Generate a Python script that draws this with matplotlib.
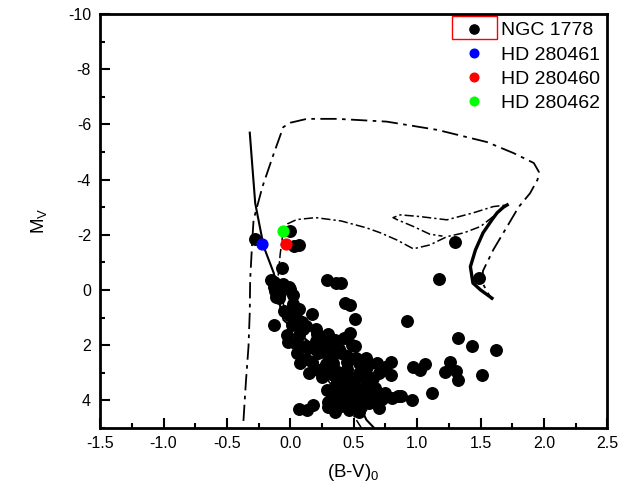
import numpy as np
import matplotlib
matplotlib.use('Agg')
import matplotlib.pyplot as plt
from matplotlib.ticker import MultipleLocator
from matplotlib.patches import Rectangle

plt.rcParams['font.family'] = ['Liberation Sans', 'DejaVu Sans']
plt.rcParams['axes.unicode_minus'] = False
plt.rcParams['mathtext.fontset'] = 'custom'
plt.rcParams['mathtext.rm'] = 'Liberation Sans'
plt.rcParams['mathtext.it'] = 'Liberation Sans:italic'

# NGC 1778 members, (B-V)0 and Mv
ngc_bv = [-0.28, -0.005, 0.027, 0.07, -0.067,
          -0.15, -0.13, -0.08, -0.026, -0.11, -0.014, -0.13, -0.06, -0.09,
          0.29, 0.36, 0.40, 1.17, 1.49, 1.30, 0.43, 0.47,
          0.066, 0.17, -0.01, 0.51, 0.92, -0.13, 0.01, 0.09,
          -0.03, 0.066, 0.21, 0.29, 0.35, 0.42, 0.47, 0.51, 0.07, 0.14, 0.04, 0.12, 0.33, 0.49,
          1.32, 1.43, 1.62,
          0.08, 0.17, 0.34, 0.45, 0.54, 0.68, 0.79, 0.97, 1.06, 1.02, 1.26, 1.22, 1.31, 1.32, 1.51,
          0.15, 0.25, 0.41, 0.54, 0.70, 0.79,
          0.29, 0.35, 0.46, 0.56, 0.67, 0.75, 0.85, 0.96, 0.87, 1.12,
          0.30, 0.41, 0.51, 0.62, 0.70, 0.35, 0.46, 0.54, 0.07, 0.13, 0.18,
          0.22, 0.30, 0.40, 0.25, 0.35, 0.45, 0.60, 0.40, 0.50, 0.60, 0.35, 0.45, 0.55, 0.65,
          0.40, 0.50, 0.30, 0.60, 0.75, 0.20, 0.10, 0.02, -0.05, 0.30, 0.25,
          0.20, 0.27, 0.33, 0.38, 0.45, 0.52, 0.58, 0.62, 0.28, 0.22, 0.32, 0.47, 0.58, 0.65,
          0.37, 0.44, 0.52, 0.60, 0.40, 0.50, 0.33, 0.42, 0.58, 0.36, 0.48, 0.56, 0.66, 0.72,
          0.80, 0.63, 0.12, 0.05, -0.02, 0.06, 0.12, 0.02, -0.12, 0.00]
ngc_mv = [-1.84, -2.15, -1.60, -1.62, -0.81,
          -0.36, -0.12, 0.11, -0.06, 0.24, -0.12, -0.30, -0.20, 0.30,
          -0.36, -0.24, -0.24, -0.39, -0.42, -1.75, 0.48, 0.54,
          0.68, 0.86, 0.90, 1.06, 1.14, 1.26, 1.27, 1.15,
          1.63, 1.63, 1.60, 1.77, 1.81, 1.75, 1.57, 2.02, 1.99, 2.11, 1.93, 2.05, 1.99, 1.99,
          1.73, 2.03, 2.17,
          2.66, 2.60, 2.66, 2.60, 2.66, 2.66, 2.60, 2.78, 2.68, 2.90, 2.63, 2.96, 2.94, 3.26, 3.09,
          3.02, 3.14, 3.02, 3.02, 3.02, 3.08,
          3.62, 3.50, 3.50, 3.62, 3.56, 3.74, 3.86, 3.99, 3.84, 3.73,
          4.05, 3.99, 4.05, 4.11, 4.29, 4.41, 4.35, 4.41, 4.33, 4.35, 4.17,
          2.30, 2.40, 2.30, 2.85, 2.90, 2.85, 2.85, 3.30, 3.30, 3.30, 3.80, 3.75, 3.85, 3.85,
          4.20, 4.25, 4.25, 2.45, 2.80, 1.40, 1.40, 0.50, 0.75, 1.60, 2.00,
          1.85, 2.20, 2.40, 2.15, 2.40, 2.45, 2.55, 2.70, 2.70, 2.90, 3.05, 3.15, 3.10, 3.20,
          3.30, 3.45, 3.55, 3.50, 3.65, 3.80, 3.90, 3.95, 3.95, 4.10, 4.15, 4.25, 4.00, 3.95,
          3.90, 3.70, 2.50, 2.30, 1.90, 1.10, 1.30, 0.20, 0.05, -0.05]

# the three HD stars
hd_names = ['HD 280461', 'HD 280460', 'HD 280462']
hd_bv = [-0.224, -0.036, -0.058]
hd_mv = [-1.66, -1.67, -2.15]
hd_colors = ['#0000ff', '#ff0000', '#00ff00']

# isochrones (traced)
isoA_bv = [-0.37, -0.35, -0.33, -0.32, -0.317, -0.30, -0.29, -0.22, -0.13, -0.056, 0.0, 0.13, 0.37,
           0.76, 1.16, 1.55, 1.76, 1.92, 1.96, 1.95, 1.89, 1.80, 1.71, 1.60, 1.52, 1.51, 1.55, 1.59]
isoA_mv = [4.75, 3.3, 2.05, 0.8, -0.36, -1.81, -2.54, -3.74, -4.95, -5.9, -6.06, -6.2, -6.2,
           -6.1, -5.8, -5.36, -4.96, -4.6, -4.28, -4.0, -3.5, -3.0, -2.3, -1.45, -0.7, -0.3, 0.05, 0.35]

isoB_bv = [-0.32, -0.30, -0.277, -0.21, -0.13, -0.08, -0.054, 0.157, 0.29, 0.42, 0.525, 0.60, 0.66]
isoB_mv = [-5.70, -4.5, -3.14, -1.57, -0.60, 0.60, 1.09, 1.93, 2.54, 3.26, 3.99, 4.71, 5.0]

isoC_bv = [0.56, 0.45, 0.30, 0.17, 0.05, -0.05, -0.09, -0.096, -0.08, -0.06, -0.02, 0.05, 0.20, 0.40,
           0.60, 0.71, 0.84, 0.97, 1.10, 1.235, 1.37, 1.50, 1.60, 1.71, 1.60, 1.44, 1.235, 1.02,
           0.867, 0.81, 0.84, 0.97, 1.10, 1.20]
isoC_mv = [5.0, 4.2, 3.3, 2.3, 1.5, 0.6, -0.2, -0.5, -1.3, -2.0, -2.4, -2.55, -2.62, -2.5,
           -2.25, -2.07, -1.81, -1.49, -1.63, -1.93, -2.07, -2.3, -2.66, -3.08, -3.02, -2.79, -2.54, -2.66,
           -2.72, -2.62, -2.55, -2.30, -2.02, -1.95]

rgb_bv = [1.59, 1.50, 1.44, 1.42, 1.46, 1.52, 1.59, 1.63, 1.68, 1.71]
rgb_mv = [0.30, 0.0, -0.25, -0.84, -1.45, -2.07, -2.54, -2.79, -3.0, -3.08]

fig = plt.figure(figsize=(6.42, 5.01), dpi=100)
ax = fig.add_axes([0.156, 0.146, 0.79, 0.826])

ax.plot(isoA_bv, isoA_mv, color='black', lw=1.3, dashes=(9, 3, 2, 3))
ax.plot(isoB_bv, isoB_mv, color='black', lw=1.5)
ax.plot(isoC_bv, isoC_mv, color='black', lw=1.1, dashes=(6, 2, 1.5, 2))
ax.plot(rgb_bv, rgb_mv, color='black', lw=2.4)

ax.plot(ngc_bv, ngc_mv, 'o', color='black', ms=8.3, ls='none', label='NGC 1778')
for name, b, m, c in zip(hd_names, hd_bv, hd_mv, hd_colors):
    ax.plot([b], [m], 'o', color=c, ms=7.8, ls='none', label=name)

ax.set_xlim(-1.5, 2.5)
ax.set_ylim(5, -10)
ax.set_xticks(np.arange(-1.5, 2.51, 0.5))
ax.set_xticklabels(['%.1f' % v for v in np.arange(-1.5, 2.51, 0.5)])
ax.set_yticks(np.arange(-10, 5, 2))
ax.xaxis.set_minor_locator(MultipleLocator(0.25))
ax.yaxis.set_minor_locator(MultipleLocator(1))
ax.tick_params(which='both', direction='in', width=1.5, labelsize=11.5)
ax.tick_params(which='major', length=7)
ax.tick_params(which='minor', length=3.5)
ax.tick_params(axis='y', pad=6.5)
ax.tick_params(axis='x', pad=6)
for s in ax.spines.values():
    s.set_linewidth(2)

ax.set_xlabel(r'(B-V)$_{\mathrm{0}}$', fontsize=13.5, labelpad=8)
ax.set_ylabel(r'M$_{\mathrm{V}}$', fontsize=13.5, labelpad=14, rotation=90)

leg = ax.legend(loc='upper right', frameon=False, fontsize=14, markerscale=0.8,
                handletextpad=0.6, labelspacing=0.34, borderaxespad=0.0, handlelength=1.5)
ax.add_patch(Rectangle((0.694, 0.94), 0.089, 0.055, transform=ax.transAxes,
                       fill=False, edgecolor='red', lw=1, clip_on=False))

fig.savefig('out.png', dpi=100)
